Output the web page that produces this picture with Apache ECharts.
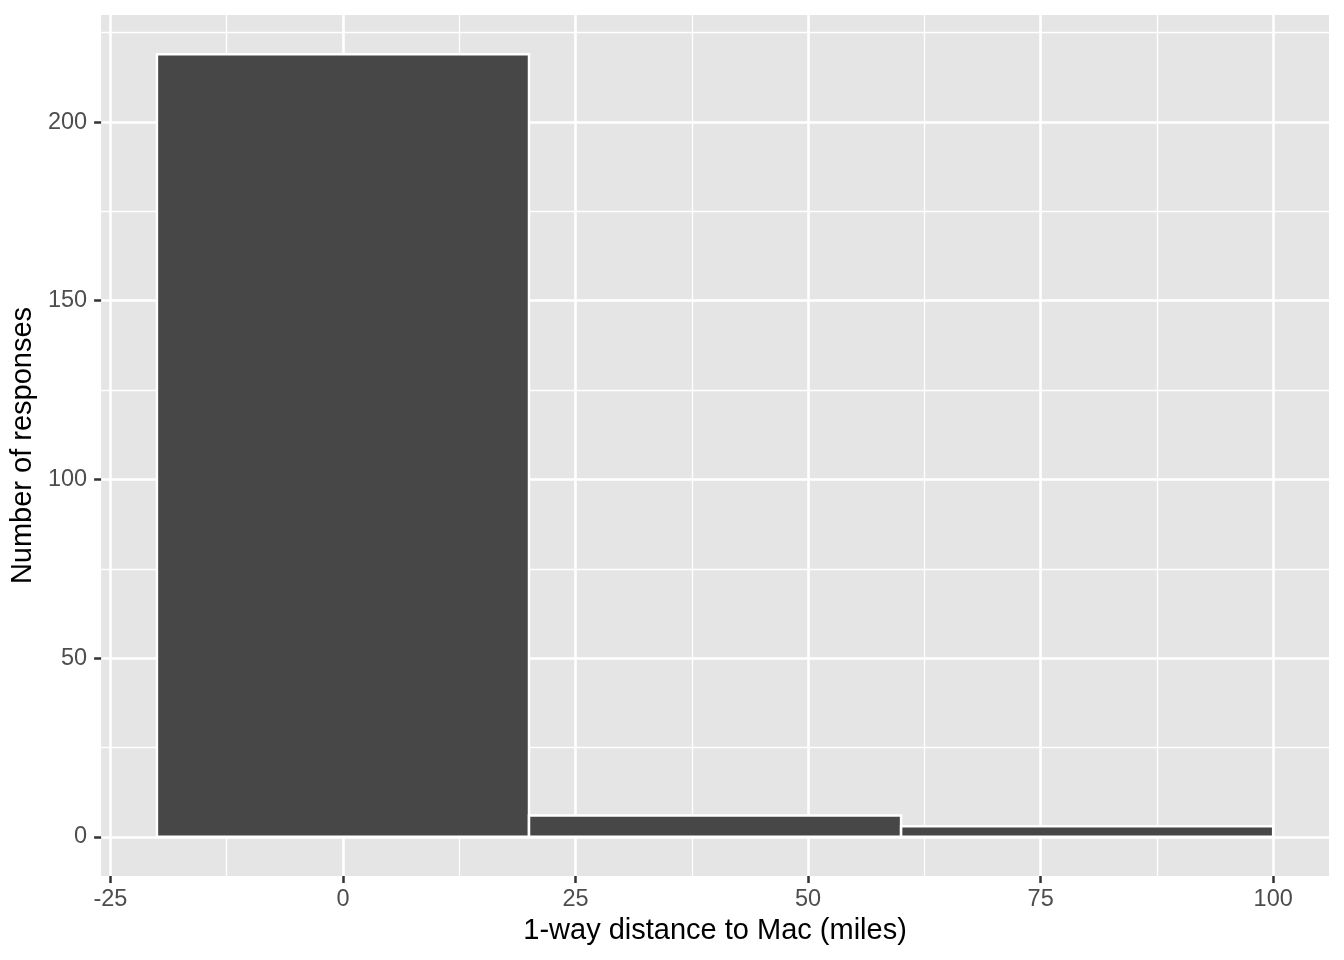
<!DOCTYPE html>
<html>
<head>
<meta charset="utf-8">
<script src="https://cdn.jsdelivr.net/npm/echarts@6/dist/echarts.min.js"></script>
<style>
  html, body { margin: 0; padding: 0; background: #fff; }
  #chart { width: 1344px; height: 960px; }
</style>
</head>
<body>
<div id="chart"></div>
<script>
// histogram bins (miles) and counts
var binStart = [-20, 20, 60];
var binEnd = [20, 60, 100];
var counts = [219, 6, 3];

// axis breaks
var xTicks = [-25, 0, 25, 50, 75, 100];
var xMinor = [-12.5, 12.5, 37.5, 62.5, 87.5];
var yTicks = [0, 50, 100, 150, 200];
var yMinor = [25, 75, 125, 175, 225];

var font = 'Liberation Sans, Arial, Helvetica, sans-serif';

var bins = binStart.map(function (s, i) { return [s, binEnd[i], counts[i]]; });

// ggplot style expansion (5% each side)
var xMin = -26, xMax = 106;
var yMin = -10.95, yMax = 229.95;

var myChart = echarts.init(document.getElementById('chart'));

var option = {
  animation: false,
  backgroundColor: '#ffffff',
  grid: {
    left: 101, right: 15, top: 15, bottom: 84,
    show: true,
    backgroundColor: '#E5E5E5',
    borderWidth: 0
  },
  xAxis: [{
    type: 'value',
    min: xMin, max: xMax,
    name: '1-way distance to Mac (miles)',
    nameLocation: 'middle',
    nameGap: 39,
    nameTextStyle: { color: '#000', fontSize: 29, fontFamily: font },
    axisLine: { show: false, onZero: false },
    axisTick: { show: true, length: 7, lineStyle: { color: '#333333', width: 2.5 }, customValues: xTicks },
    axisLabel: { margin: 12, color: '#4D4D4D', fontSize: 23.5, fontFamily: font, customValues: xTicks },
    splitLine: { show: true, lineStyle: { color: '#ffffff', width: 2.6 } }
  }, {
    // minor grid lines
    type: 'value',
    min: xMin, max: xMax,
    position: 'bottom',
    axisLine: { show: false, onZero: false },
    axisTick: { show: false, customValues: xMinor },
    axisLabel: { show: false, customValues: xMinor },
    splitLine: { show: true, lineStyle: { color: '#ffffff', width: 1.3 } }
  }],
  yAxis: [{
    type: 'value',
    min: yMin, max: yMax,
    name: 'Number of responses',
    nameLocation: 'middle',
    nameGap: 59,
    nameTextStyle: { color: '#000', fontSize: 29, fontFamily: font },
    axisLine: { show: false, onZero: false },
    axisTick: { show: true, length: 7, lineStyle: { color: '#333333', width: 2.5 }, customValues: yTicks },
    axisLabel: { margin: 14, color: '#4D4D4D', fontSize: 23.5, fontFamily: font, customValues: yTicks },
    splitLine: { show: true, lineStyle: { color: '#ffffff', width: 2.6 } }
  }, {
    type: 'value',
    min: yMin, max: yMax,
    position: 'left',
    axisLine: { show: false, onZero: false },
    axisTick: { show: false, customValues: yMinor },
    axisLabel: { show: false, customValues: yMinor },
    splitLine: { show: true, lineStyle: { color: '#ffffff', width: 1.3 } }
  }],
  series: [{
    type: 'custom',
    xAxisIndex: 0,
    yAxisIndex: 0,
    encode: { x: [0, 1], y: 2 },
    data: bins,
    renderItem: function (params, api) {
      var p0 = api.coord([api.value(0), api.value(2)]);
      var p1 = api.coord([api.value(1), 0]);
      return {
        type: 'rect',
        shape: { x: p0[0], y: p0[1], width: p1[0] - p0[0], height: p1[1] - p0[1] },
        style: { fill: '#474747', stroke: '#ffffff', lineWidth: 2.5 }
      };
    }
  }]
};

myChart.setOption(option);
</script>
</body>
</html>
